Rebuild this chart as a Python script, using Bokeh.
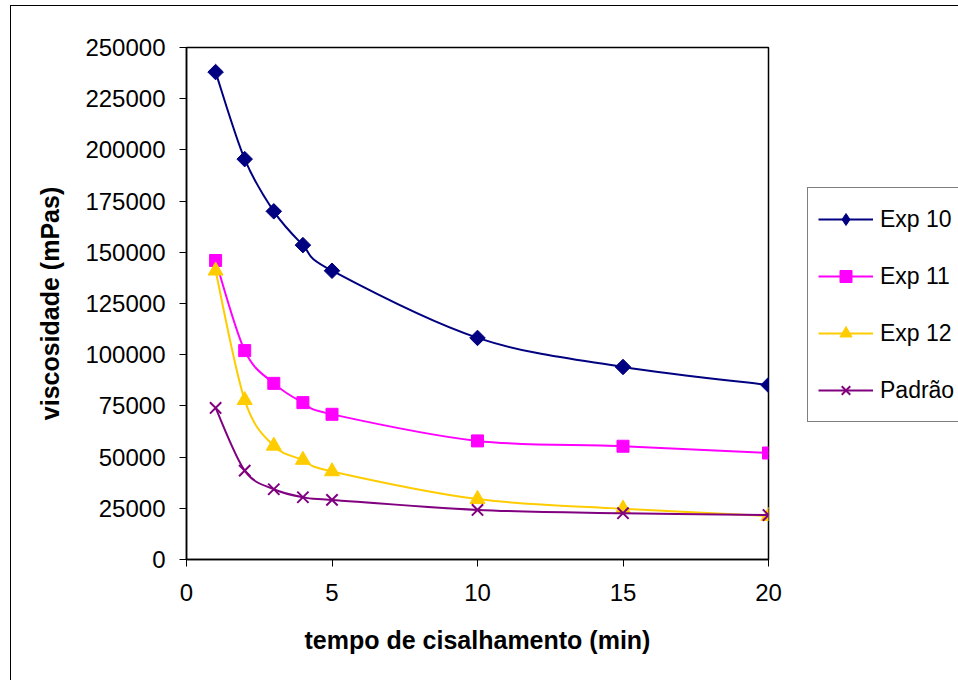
import math
from bokeh.plotting import figure
from bokeh.models import (Legend, LegendItem, FixedTicker, BasicTickFormatter,
                          Range1d, ColumnDataSource)
from bokeh.embed import file_html
from bokeh.resources import INLINE

# ---- data ----
tempo = [1, 2, 3, 4, 5, 10, 15, 20]
exp10 = [238000, 195500, 170000, 153500, 141000, 108200, 94000, 85200]
exp11 = [146000, 102000, 86000, 76600, 70900, 57900, 55300, 52000]
exp12 = [141000, 77800, 55500, 48600, 43000, 29500, 24800, 21200]
padrao = [74000, 43400, 34300, 30400, 29100, 24200, 22600, 21700]
series_names = ["Exp 10", "Exp 11", "Exp 12", "Padrão"]
y_ticks = list(range(0, 250001, 25000))
x_ticks = [0, 5, 10, 15, 20]

colors = ["#000080", "#FF00FF", "#FFCC00", "#800080"]
markers = ["square", "square", "triangle", "x"]
legend_markers = ["diamond", "square", "triangle", "x"]
angles = [math.pi / 4, 0, 0, 0]
msizes = [11, 12, 15, 16]

FONT = "Liberation Sans"

p = figure(output_backend="svg", toolbar_location=None,
           x_range=Range1d(0, 20), y_range=Range1d(0, 250000),
           frame_width=582, frame_height=512,
           min_border_left=175, min_border_top=41, min_border_right=190,
           min_border_bottom=121)
p.styles = {"margin-left": "10px", "margin-top": "5px",
            "border-left": "1px solid black", "border-top": "1px solid black"}
p.xgrid.visible = False
p.ygrid.visible = False
p.outline_line_color = "black"
p.outline_line_width = 1.5
p.background_fill_color = "white"
p.border_fill_color = "white"

# axes
p.yaxis.ticker = FixedTicker(ticks=y_ticks)
p.xaxis.ticker = FixedTicker(ticks=x_ticks)
p.yaxis.formatter = BasicTickFormatter(use_scientific=False)
for ax in (p.xaxis[0], p.yaxis[0]):
    ax.major_label_text_font = FONT
    ax.major_label_text_font_size = "24px"
    ax.major_label_text_color = "black"
    ax.axis_line_color = "black"
    ax.axis_line_width = 1.5
    ax.major_tick_line_color = "black"
    ax.major_tick_in = 0
    ax.major_tick_out = 7
    ax.minor_tick_line_color = None
    ax.axis_label_text_font = FONT
    ax.axis_label_text_font_style = "bold"
    ax.axis_label_text_font_size = "25px"
    ax.axis_label_text_color = "black"
p.xaxis.axis_label = "tempo de cisalhamento (min)"
p.yaxis.axis_label = "viscosidade (mPas)"
p.yaxis.major_label_standoff = 14
p.xaxis.major_label_standoff = 17
p.xaxis.axis_label_standoff = 22
p.yaxis.axis_label_standoff = 18


def smooth(xs, ys):
    n = len(xs)
    d = dict(x0=[], y0=[], x1=[], y1=[], cx0=[], cy0=[], cx1=[], cy1=[])
    for i in range(n - 1):
        xa, ya = xs[max(i - 1, 0)], ys[max(i - 1, 0)]
        xb, yb = xs[i], ys[i]
        xc, yc = xs[i + 1], ys[i + 1]
        xd, yd = xs[min(i + 2, n - 1)], ys[min(i + 2, n - 1)]
        d["x0"].append(xb); d["y0"].append(yb)
        d["x1"].append(xc); d["y1"].append(yc)
        d["cx0"].append(xb + (xc - xa) / 6); d["cy0"].append(yb + (yc - ya) / 6)
        d["cx1"].append(xc - (xd - xb) / 6); d["cy1"].append(yc - (yd - yb) / 6)
    return ColumnDataSource(d)


items = []
for name, ys, c, m, lm, a, s in zip(series_names, [exp10, exp11, exp12, padrao],
                                    colors, markers, legend_markers, angles, msizes):
    src = smooth(tempo, ys)
    br = p.bezier(x0="x0", y0="y0", x1="x1", y1="y1", cx0="cx0", cy0="cy0",
                  cx1="cx1", cy1="cy1", source=src, line_color=c, line_width=2)
    lw = 2 if m == "x" else 1
    renderers = [br]
    if lm != m:
        # legend-style marker, fully covered by the plotted marker
        hr = p.scatter(tempo, ys, marker=lm, size=s, fill_color=c,
                       line_color=c, line_width=lw)
        renderers.append(hr)
    sr = p.scatter(tempo, ys, marker=m, angle=a, size=s, fill_color=c,
                   line_color=c, line_width=lw)
    if lm == m:
        renderers.append(sr)
    items.append(LegendItem(label=name, renderers=renderers))

legend = Legend(items=items, location=(39, 137),
                label_text_font=FONT, label_text_font_size="23px",
                label_text_color="black",
                glyph_width=55, glyph_height=30, label_height=42,
                label_standoff=7, spacing=15, padding=10, margin=0,
                border_line_color="black", border_line_width=1,
                background_fill_color="white", background_fill_alpha=1)
p.add_layout(legend, "right")

open("out.html", "w").write(file_html(p, INLINE))
